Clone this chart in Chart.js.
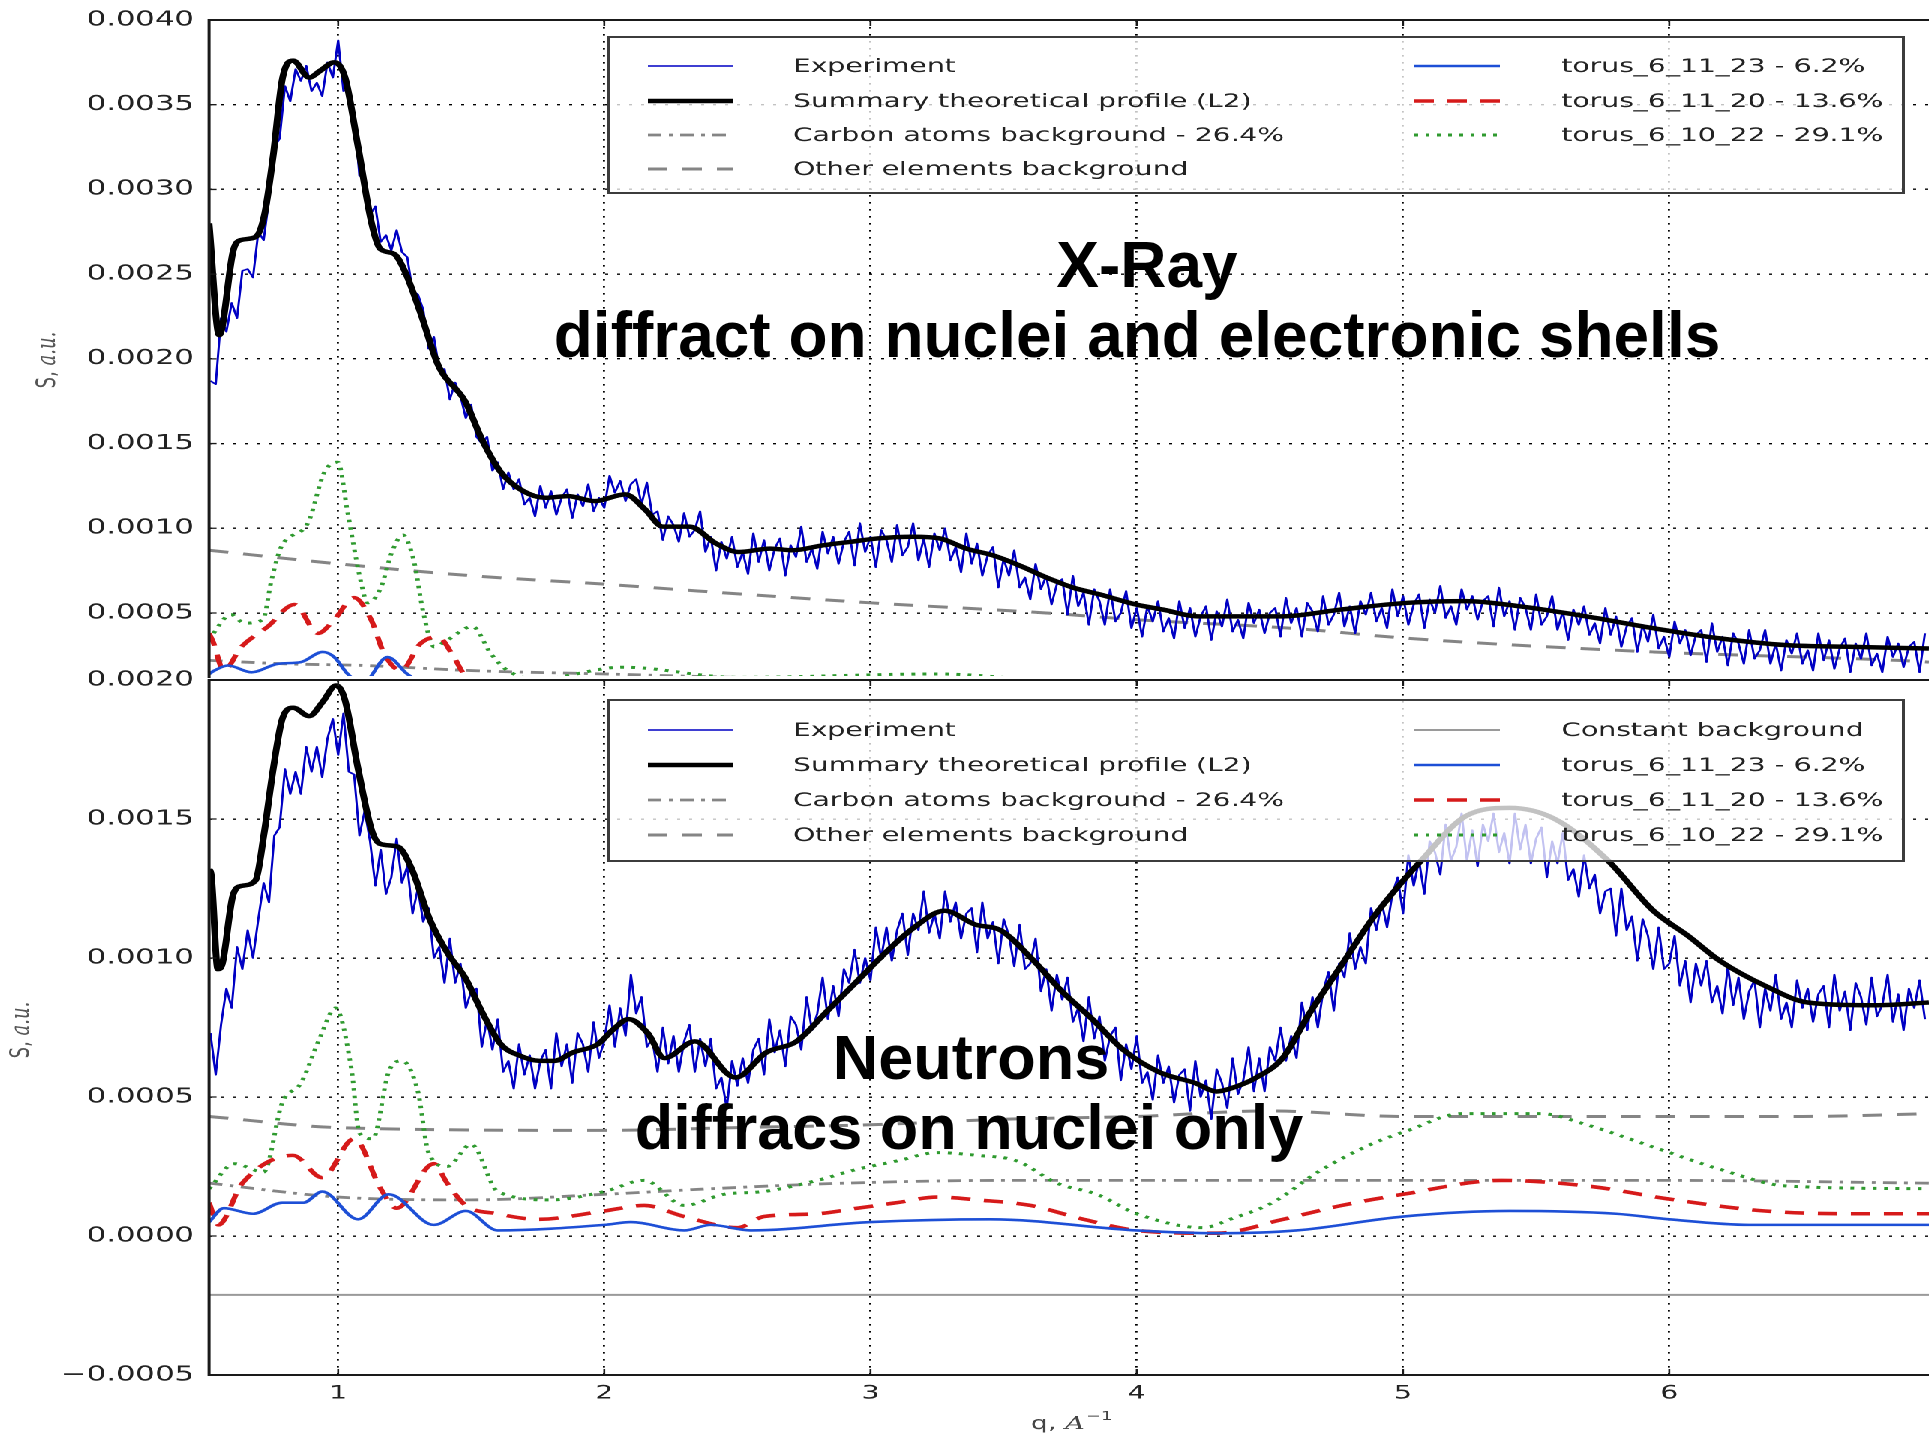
<!DOCTYPE html>
<html><head><meta charset="utf-8">
<script src="https://cdn.jsdelivr.net/npm/chart.js@4/dist/chart.umd.min.js"></script>
<style>
html,body{margin:0;padding:0;background:#fff;width:1929px;height:1440px;overflow:hidden;}
#stretch{position:absolute;left:0;top:0;width:1286px;height:1440px;transform:scaleX(1.5);transform-origin:0 0;}
.box{position:absolute;left:0;width:1286px;}
.note{position:absolute;font-family:"Liberation Sans",Arial,sans-serif;font-weight:bold;color:#000;white-space:nowrap;line-height:1;transform:translateX(-50%);}
</style></head>
<body>
<div id="stretch">
  <div class="box" style="top:0;height:678px"><canvas id="c1" width="1286" height="678"></canvas></div>
  <div class="box" style="top:650px;height:790px"><canvas id="c2" width="1286" height="790"></canvas></div>
</div>
<div class="note" style="left:1147px;top:233px;font-size:64px">X-Ray</div>
<div class="note" style="left:1137px;top:303px;font-size:64px">diffract on nuclei and electronic shells</div>
<div class="note" style="left:971px;top:1026px;font-size:63px">Neutrons</div>
<div class="note" style="left:969px;top:1096px;font-size:63px">diffracs on nuclei only</div>
<script>
// ---------- tick values ----------
const xTicks = [1, 2, 3, 4, 5, 6];
const topYTicks = [0.0005, 0.001, 0.0015, 0.002, 0.0025, 0.003, 0.0035, 0.004];
const botYTicks = [-0.0005, 0, 0.0005, 0.001, 0.0015, 0.002];

// ---------- experiment (sampled on q = 0.52, 0.54, ... 6.96) ----------
const expQ0 = 0.52, expDQ = 0.02;
const expTop = [
0.00187,0.00185,0.00224,0.00216,0.00233,0.00224,0.00252,0.00253,0.00248,0.00275,
0.00270,0.00294,0.00325,0.00330,0.00361,0.00352,0.00371,0.00364,0.00373,0.00358,
0.00363,0.00355,0.00375,0.00366,0.00388,0.00358,0.00360,0.00345,0.00308,0.00307,
0.00285,0.00290,0.00269,0.00273,0.00264,0.00276,0.00263,0.00260,0.00240,0.00238,
0.00229,0.00206,0.00213,0.00194,0.00194,0.00176,0.00186,0.00178,0.00165,0.00173,
0.00154,0.00150,0.00154,0.00134,0.00139,0.00123,0.00133,0.00123,0.00129,0.00114,
0.00118,0.00107,0.00125,0.00112,0.00122,0.00108,0.00118,0.00123,0.00106,0.00120,
0.00113,0.00126,0.00110,0.00118,0.00112,0.00131,0.00121,0.00128,0.00116,0.00126,
0.00129,0.00114,0.00127,0.00108,0.00110,0.00093,0.00107,0.00102,0.00092,0.00109,
0.00095,0.00099,0.00110,0.00086,0.00095,0.00075,0.00092,0.00082,0.00095,0.00077,
0.00086,0.00073,0.00097,0.00080,0.00093,0.00075,0.00088,0.00094,0.00072,0.00090,
0.00083,0.00101,0.00080,0.00088,0.00076,0.00098,0.00085,0.00095,0.00079,0.00092,
0.00098,0.00078,0.00103,0.00086,0.00095,0.00077,0.00099,0.00093,0.00080,0.00102,
0.00084,0.00089,0.00103,0.00081,0.00094,0.00077,0.00097,0.00087,0.00100,0.00081,
0.00089,0.00074,0.00097,0.00079,0.00091,0.00072,0.00084,0.00089,0.00065,0.00082,
0.00072,0.00087,0.00065,0.00071,0.00058,0.00079,0.00064,0.00072,0.00055,0.00067,
0.00070,0.00049,0.00072,0.00054,0.00062,0.00043,0.00064,0.00057,0.00043,0.00064,
0.00045,0.00050,0.00063,0.00041,0.00053,0.00036,0.00054,0.00045,0.00057,0.00039,
0.00047,0.00035,0.00057,0.00041,0.00053,0.00036,0.00048,0.00054,0.00034,0.00051,
0.00042,0.00058,0.00039,0.00046,0.00035,0.00056,0.00044,0.00052,0.00038,0.00050,
0.00053,0.00036,0.00059,0.00044,0.00053,0.00036,0.00056,0.00051,0.00039,0.00060,
0.00043,0.00049,0.00062,0.00042,0.00054,0.00038,0.00057,0.00049,0.00062,0.00045,
0.00053,0.00041,0.00064,0.00048,0.00060,0.00043,0.00055,0.00061,0.00041,0.00058,
0.00050,0.00066,0.00047,0.00054,0.00043,0.00064,0.00052,0.00060,0.00046,0.00057,
0.00060,0.00042,0.00065,0.00048,0.00057,0.00040,0.00059,0.00053,0.00040,0.00061,
0.00043,0.00048,0.00060,0.00040,0.00051,0.00034,0.00052,0.00043,0.00054,0.00037,
0.00044,0.00032,0.00053,0.00037,0.00048,0.00030,0.00042,0.00047,0.00027,0.00043,
0.00033,0.00049,0.00029,0.00036,0.00024,0.00045,0.00032,0.00040,0.00025,0.00037,
0.00040,0.00021,0.00044,0.00027,0.00036,0.00019,0.00038,0.00032,0.00020,0.00040,
0.00023,0.00028,0.00040,0.00020,0.00032,0.00016,0.00034,0.00026,0.00038,0.00020,
0.00028,0.00016,0.00038,0.00022,0.00034,0.00017,0.00029,0.00035,0.00015,0.00032,
0.00023,0.00038,0.00019,0.00026,0.00015,0.00036,0.00024,0.00032,0.00018,0.00030,
0.00033,0.00015,0.00038];
const expBot = [
0.00073,0.00058,0.00076,0.00089,0.00082,0.00104,0.00096,0.00110,0.00100,0.00114,
0.00127,0.00120,0.00144,0.00147,0.00168,0.00159,0.00167,0.00159,0.00176,0.00167,
0.00176,0.00165,0.00179,0.00186,0.00173,0.00188,0.00167,0.00166,0.00144,0.00153,
0.00142,0.00126,0.00139,0.00123,0.00129,0.00143,0.00127,0.00133,0.00116,0.00125,
0.00113,0.00118,0.00100,0.00104,0.00091,0.00107,0.00091,0.00098,0.00082,0.00088,
0.00089,0.00068,0.00078,0.00067,0.00078,0.00059,0.00063,0.00053,0.00069,0.00058,
0.00065,0.00053,0.00063,0.00067,0.00053,0.00073,0.00061,0.00069,0.00055,0.00073,
0.00069,0.00059,0.00077,0.00064,0.00070,0.00083,0.00068,0.00082,0.00072,0.00094,
0.00080,0.00086,0.00068,0.00071,0.00059,0.00075,0.00062,0.00072,0.00059,0.00070,
0.00076,0.00059,0.00071,0.00061,0.00071,0.00053,0.00057,0.00046,0.00063,0.00054,
0.00064,0.00055,0.00067,0.00071,0.00058,0.00078,0.00066,0.00074,0.00061,0.00079,
0.00076,0.00067,0.00086,0.00074,0.00080,0.00093,0.00078,0.00090,0.00079,0.00096,
0.00091,0.00103,0.00091,0.00100,0.00092,0.00111,0.00100,0.00111,0.00099,0.00110,
0.00116,0.00101,0.00116,0.00110,0.00124,0.00109,0.00116,0.00107,0.00124,0.00113,
0.00120,0.00107,0.00116,0.00118,0.00102,0.00120,0.00107,0.00113,0.00098,0.00114,
0.00108,0.00097,0.00112,0.00096,0.00098,0.00107,0.00088,0.00096,0.00081,0.00094,
0.00085,0.00093,0.00077,0.00082,0.00070,0.00086,0.00071,0.00079,0.00063,0.00072,
0.00075,0.00056,0.00069,0.00060,0.00072,0.00055,0.00059,0.00049,0.00065,0.00055,
0.00061,0.00048,0.00058,0.00060,0.00045,0.00063,0.00050,0.00056,0.00042,0.00060,
0.00055,0.00046,0.00064,0.00051,0.00056,0.00068,0.00052,0.00064,0.00052,0.00068,
0.00063,0.00075,0.00063,0.00072,0.00064,0.00084,0.00074,0.00086,0.00075,0.00088,
0.00095,0.00081,0.00098,0.00093,0.00109,0.00096,0.00104,0.00098,0.00118,0.00110,
0.00120,0.00111,0.00123,0.00129,0.00116,0.00137,0.00126,0.00135,0.00123,0.00142,
0.00138,0.00130,0.00148,0.00135,0.00140,0.00152,0.00135,0.00146,0.00133,0.00148,
0.00142,0.00152,0.00138,0.00145,0.00134,0.00152,0.00139,0.00148,0.00134,0.00143,
0.00147,0.00129,0.00142,0.00134,0.00145,0.00128,0.00132,0.00122,0.00137,0.00125,
0.00130,0.00116,0.00124,0.00125,0.00108,0.00125,0.00110,0.00115,0.00099,0.00114,
0.00108,0.00096,0.00111,0.00096,0.00098,0.00108,0.00090,0.00099,0.00084,0.00098,
0.00090,0.00099,0.00084,0.00090,0.00080,0.00097,0.00083,0.00093,0.00078,0.00088,
0.00092,0.00075,0.00089,0.00081,0.00094,0.00078,0.00084,0.00075,0.00092,0.00082,
0.00089,0.00077,0.00087,0.00090,0.00075,0.00094,0.00081,0.00088,0.00074,0.00091,
0.00086,0.00076,0.00093,0.00079,0.00083,0.00094,0.00077,0.00087,0.00074,0.00089,
0.00082,0.00092,0.00078];

// ---------- X-ray panel smooth curves ----------
const topSumQ = [0.515,0.553,0.606,0.632,0.69,0.723,0.756,0.79,0.831,0.891,0.932,0.985,1.026,1.075,1.126,1.158,1.21,1.25,1.31,1.377,1.477,1.545,1.612,1.695,1.78,1.863,1.964,2.079,2.154,2.22,2.32,2.42,2.505,2.623,2.707,2.824,2.925,3.026,3.16,3.26,3.36,3.46,3.56,3.66,3.76,3.86,3.997,4.098,4.23,4.366,4.548,4.766,5.017,5.235,5.435,5.687,5.94,6.19,6.44,6.69,6.975];
const topSumV = [0.00280,0.00214,0.00264,0.00270,0.00272,0.00285,0.00320,0.00365,0.00376,0.00366,0.00370,0.00375,0.00366,0.00325,0.00280,0.00265,0.00262,0.00252,0.00227,0.00196,0.00175,0.00151,0.00133,0.00122,0.00118,0.00119,0.00116,0.00120,0.00111,0.00101,0.00101,0.00091,0.00086,0.00088,0.00087,0.00090,0.00092,0.00094,0.00095,0.00094,0.00088,0.00084,0.00078,0.00071,0.00065,0.00061,0.00055,0.00052,0.00048,0.00048,0.00048,0.00052,0.00056,0.00057,0.00054,0.00048,0.00041,0.00035,0.00031,0.00030,0.00029];
const topOtherQ = [0.515,1.0,1.5,2.0,2.35,3.0,3.66,4.0,4.58,5.02,5.94,6.86,6.975];
const topOtherV = [0.00087,0.00079,0.00072,0.00067,0.00063,0.00056,0.00050,0.00046,0.00041,0.00035,0.00027,0.00022,0.00021];
const topCarbonQ = [0.515,0.8,1.1,1.5,2.0,2.5,3.0,4.0,5.0,6.0,6.975];
const topCarbonV = [0.00022,0.00020,0.00019,0.00016,0.00014,0.00012,0.00011,0.00009,0.00008,0.00007,0.00006];
const topT23Q = [0.515,0.535,0.586,0.674,0.774,0.86,0.942,0.985,1.036,1.09,1.186,1.26,1.33,1.45,1.6,2.0,3.0,4.3,5.4,6.975];
const topT23V = [0.00014,0.00016,0.00019,0.00015,0.00020,0.00021,0.00027,0.00024,0.00014,0.00008,0.00024,0.00014,0.00008,0.00010,0.00005,0.00004,0.00006,0.00002,0.00008,0.00004];
const topT20Q = [0.515,0.53,0.57,0.636,0.736,0.836,0.924,0.985,1.06,1.124,1.173,1.236,1.31,1.374,1.435,1.473,1.55,1.8,2.2,2.6,3.3,4.2,5.4,6.975];
const topT20V = [0.00038,0.00033,0.00016,0.00030,0.00042,0.00055,0.00038,0.00046,0.00059,0.00046,0.00026,0.00016,0.00032,0.00036,0.00024,0.00014,0.00008,0.00006,0.00008,0.00006,0.00011,0.00002,0.00010,0.00006];
const topT22Q = [0.515,0.523,0.598,0.647,0.717,0.749,0.786,0.886,0.948,0.999,1.036,1.086,1.111,1.161,1.2,1.243,1.286,1.318,1.361,1.41,1.505,1.574,1.637,1.75,2.07,2.5,3.25,4.0,5.4,6.975];
const topT22V = [0.00034,0.00036,0.00049,0.00044,0.00046,0.00069,0.00089,0.00103,0.00133,0.00139,0.00109,0.00068,0.00056,0.00065,0.00085,0.00096,0.00080,0.00052,0.00030,0.00034,0.00042,0.00026,0.00016,0.00011,0.00018,0.00012,0.00014,0.00006,0.00010,0.00008];

// ---------- Neutron panel smooth curves ----------
const botSumQ = [0.515,0.523,0.548,0.565,0.606,0.64,0.69,0.722,0.756,0.79,0.831,0.891,0.941,0.992,1.025,1.075,1.126,1.159,1.225,1.277,1.344,1.41,1.477,1.544,1.611,1.679,1.757,1.813,1.881,1.976,2.03,2.092,2.163,2.226,2.34,2.493,2.608,2.722,2.838,2.953,3.068,3.164,3.278,3.394,3.488,3.603,3.719,3.833,3.949,4.083,4.22,4.3,4.35,4.449,4.548,4.648,4.766,4.884,4.984,5.068,5.235,5.40,5.57,5.77,5.94,6.07,6.19,6.36,6.52,6.775,6.975];
const botSumV = [0.00132,0.00130,0.00096,0.00098,0.00123,0.00126,0.00128,0.00145,0.00168,0.00186,0.00190,0.00187,0.00192,0.00198,0.00193,0.00168,0.00146,0.00141,0.00140,0.00132,0.00114,0.00102,0.00093,0.00080,0.00069,0.00065,0.00063,0.00063,0.00066,0.00069,0.00074,0.00078,0.00073,0.00064,0.00070,0.00057,0.00066,0.00070,0.00081,0.00092,0.00103,0.00111,0.00117,0.00112,0.00110,0.00100,0.00088,0.00078,0.00067,0.00059,0.00055,0.00052,0.00053,0.00057,0.00064,0.00080,0.00097,0.00114,0.00126,0.00135,0.00151,0.00154,0.00150,0.00135,0.00117,0.00108,0.00099,0.00090,0.00084,0.00083,0.00084];
const botOtherQ = [0.515,1.0,2.0,2.5,3.0,3.5,4.0,4.5,5.0,5.5,6.0,6.5,6.975];
const botOtherV = [0.00043,0.00039,0.00038,0.00039,0.00040,0.00042,0.00043,0.00045,0.00043,0.00043,0.00043,0.00043,0.00044];
const botCarbonQ = [0.515,1.0,1.5,2.0,2.4,2.9,3.5,4.5,6.0,6.975];
const botCarbonV = [0.00019,0.00014,0.00013,0.00015,0.00017,0.00019,0.00020,0.00020,0.00020,0.00019];
const botT23Q = [0.515,0.57,0.68,0.79,0.87,0.94,1.075,1.19,1.36,1.48,1.6,2.0,2.1,2.3,2.4,2.55,3.0,3.45,4.0,4.3,4.6,5.0,5.4,5.8,6.0,6.3,6.975];
const botT23V = [0.00005,0.00010,0.00008,0.00012,0.00012,0.00016,0.00006,0.00015,0.00004,0.00009,0.00002,0.00004,0.00005,0.00002,0.00004,0.00002,0.00005,0.00006,0.00002,0.00001,0.00002,0.00007,0.00009,0.00008,0.00006,0.00004,0.00004];
const botT20Q = [0.515,0.55,0.64,0.83,0.94,1.06,1.16,1.22,1.36,1.41,1.48,1.6,1.75,2.0,2.15,2.3,2.5,2.6,2.8,2.95,3.1,3.25,3.4,3.6,3.8,4.0,4.3,4.55,4.77,5.0,5.37,5.69,6.02,6.36,6.69,6.975];
const botT20V = [0.00012,0.00004,0.00019,0.00029,0.00021,0.00035,0.00017,0.00010,0.00026,0.00019,0.00011,0.00008,0.00006,0.00009,0.00011,0.00007,0.00003,0.00007,0.00008,0.00010,0.00012,0.00014,0.00013,0.00011,0.00006,0.00002,0.00001,0.00006,0.00011,0.00015,0.00020,0.00018,0.00013,0.00009,0.00008,0.00008];
const botT22Q = [0.515,0.61,0.72,0.79,0.86,0.93,0.99,1.05,1.08,1.13,1.19,1.24,1.30,1.34,1.41,1.50,1.60,1.80,2.00,2.15,2.30,2.45,2.60,2.80,2.95,3.10,3.25,3.40,3.55,3.70,3.85,4.00,4.25,4.35,4.51,4.68,4.88,5.02,5.22,5.52,5.69,5.94,6.19,6.44,6.975];
const botT22V = [0.00017,0.00026,0.00023,0.00048,0.00055,0.00071,0.00082,0.00060,0.00037,0.00035,0.00059,0.00063,0.00052,0.00030,0.00025,0.00033,0.00016,0.00013,0.00016,0.00020,0.00011,0.00015,0.00016,0.00020,0.00024,0.00027,0.00030,0.00029,0.00027,0.00019,0.00015,0.00008,0.00003,0.00006,0.00012,0.00023,0.00033,0.00038,0.00044,0.00044,0.00040,0.00032,0.00024,0.00018,0.00017];
const botConstQ = [0.515, 6.975];
const botConstV = [-0.000212, -0.000212];

// ---------- labels ----------
const LBL = {
  exp: 'Experiment', sum: 'Summary theoretical profile (L2)',
  carbon: 'Carbon atoms background - 26.4%', other: 'Other elements background',
  cst: 'Constant background', t23: 'torus_6_11_23 - 6.2%', t20: 'torus_6_11_20 - 13.6%', t22: 'torus_6_10_22 - 29.1%'
};

// ---------- styles ----------
const STY = {
  sum: {borderColor:'#000000', borderWidth:4.5},
  exp: {borderColor:'#0000c4', borderWidth:1.5},
  t23: {borderColor:'#1d4fd6', borderWidth:2.6},
  t20: {borderColor:'#d61a1a', borderWidth:3.6, borderDash:[13,9]},
  t22: {borderColor:'#2f9a2f', borderWidth:3, borderDash:[2.5,5]},
  carbon: {borderColor:'#858585', borderWidth:2.8, borderDash:[9,5,2.5,5]},
  other: {borderColor:'#858585', borderWidth:3, borderDash:[13,10]},
  cst: {borderColor:'#9a9a9a', borderWidth:2}
};

const pts = (qs, vs) => qs.map((q, i) => ({x: q, y: vs[i]}));
const expPts = (vs) => vs.map((v, i) => ({x: +(expQ0 + expDQ * i).toFixed(2), y: v}));
function ds(key, data, smooth) {
  return Object.assign({label: LBL[key], key: key, data: data, pointRadius: 0, fill: false,
    tension: 0, cubicInterpolationMode: smooth ? 'monotone' : 'default'}, STY[key]);
}

const TICK_FONT = {family: 'DejaVu Sans', size: 20.5};
const fmtY = v => (v < -1e-12 ? '\u2212' + (-v).toFixed(4) : Math.abs(v).toFixed(4));

function drawYTitle(ctx, cx, cy) {
  ctx.save();
  ctx.translate(cx, cy); ctx.rotate(-Math.PI / 2);
  ctx.fillStyle = '#555'; ctx.textBaseline = 'middle';
  ctx.font = '18px "DejaVu Sans"'; const w1 = ctx.measureText('S, ').width;
  ctx.font = 'italic 18px "DejaVu Serif"'; const w2 = ctx.measureText('a.u.').width;
  const x0 = -(w1 + w2) / 2;
  ctx.font = '18px "DejaVu Sans"'; ctx.fillText('S, ', x0, 0);
  ctx.font = 'italic 18px "DejaVu Serif"'; ctx.fillText('a.u.', x0 + w1, 0);
  ctx.restore();
}
function drawXTitle(ctx, cx, cy) {
  ctx.save();
  ctx.fillStyle = '#444'; ctx.textBaseline = 'alphabetic';
  ctx.font = '18px "DejaVu Sans"'; const w1 = ctx.measureText('q, ').width;
  ctx.font = 'italic 18px "DejaVu Serif"'; const w2 = ctx.measureText('A').width;
  ctx.font = '12px "DejaVu Sans"'; const w3 = ctx.measureText('\u22121').width;
  let x = cx - (w1 + w2 + w3) / 2;
  ctx.font = '18px "DejaVu Sans"'; ctx.fillText('q, ', x, cy + 6); x += w1;
  ctx.font = 'italic 18px "DejaVu Serif"'; ctx.fillText('A', x, cy + 6); x += w2 + 1;
  ctx.font = '12px "DejaVu Sans"'; ctx.fillText('\u22121', x, cy - 3);
  ctx.restore();
}

function decor(cfg) {
  return {
    id: 'decor' + cfg.name,
    afterDatasetsDraw(chart) {
      const ctx = chart.ctx, L = cfg.legend;
      ctx.save();
      ctx.fillStyle = 'rgba(255,255,255,0.76)';
      ctx.fillRect(L.left, L.top, L.right - L.left, L.bottom - L.top);
      ctx.lineWidth = 2; ctx.strokeStyle = '#3c3c3c';
      ctx.strokeRect(L.left, L.top, L.right - L.left, L.bottom - L.top);
      ctx.font = '18.8px "DejaVu Sans"'; ctx.textBaseline = 'middle'; ctx.fillStyle = '#222';
      L.items.forEach(it => {
        const d = chart.data.datasets.find(s => s.key === it.key);
        const c = L.cols[it.col], y = L.rows[it.row];
        ctx.save();
        ctx.strokeStyle = d.borderColor; ctx.lineWidth = d.borderWidth;
        ctx.setLineDash(d.borderDash || []);
        ctx.beginPath(); ctx.moveTo(c.x0, y); ctx.lineTo(c.x1, y); ctx.stroke();
        ctx.restore();
        ctx.fillText(d.label, c.tx, y + 1);
      });
      ctx.restore();
    },
    afterDraw(chart) {
      const ctx = chart.ctx, a = chart.chartArea;
      const xs = chart.scales.x, ys = chart.scales.y;
      ctx.save();
      ctx.strokeStyle = '#1a1a1a'; ctx.lineWidth = 2;
      ctx.beginPath();
      ctx.moveTo(a.right + 2, a.top); ctx.lineTo(a.left, a.top);
      ctx.lineTo(a.left, cfg.bottomFrame ? a.bottom : chart.height);
      if (cfg.bottomFrame) ctx.lineTo(a.right + 2, a.bottom);
      ctx.stroke();
      ctx.lineWidth = 1.3;
      ctx.beginPath();
      xTicks.forEach(v => {
        const px = xs.getPixelForValue(v);
        ctx.moveTo(px, a.top); ctx.lineTo(px, a.top + 6);
        if (cfg.bottomFrame) { ctx.moveTo(px, a.bottom); ctx.lineTo(px, a.bottom - 6); }
      });
      cfg.yTicks.forEach(v => {
        const py = ys.getPixelForValue(v);
        if (py >= a.top - 1 && py <= a.bottom + 1) { ctx.moveTo(a.left, py); ctx.lineTo(a.left + 5, py); }
      });
      ctx.stroke();
      ctx.restore();
      drawYTitle(ctx, cfg.yTitle[0], cfg.yTitle[1]);
      if (cfg.xTitle) drawXTitle(ctx, cfg.xTitle[0], cfg.xTitle[1]);
    }
  };
}

function makeOptions(yMin, yMax, yTicks, xAxisH, xTickShow, padTop) {
  return {
    responsive: false, animation: false, devicePixelRatio: 2, events: [],
    layout: {padding: {top: padTop, left: 0, right: 0, bottom: xTickShow ? 0 : 2}},
    plugins: {legend: {display: false}, tooltip: {enabled: false}},
    elements: {line: {borderCapStyle: 'butt', borderJoinStyle: 'round'}},
    scales: {
      x: {
        type: 'linear', min: 0.515, max: 6.975,
        afterBuildTicks: s => { s.ticks = xTicks.map(v => ({value: v})); },
        afterFit: s => { s.height = xAxisH; s.paddingLeft = 0; s.paddingRight = 0; },
        ticks: {display: xTickShow, font: {family: 'DejaVu Sans', size: 19}, color: '#222', padding: 7, maxRotation: 0,
          callback: v => String(v)},
        grid: {drawTicks: false, color: '#000', lineWidth: 1.4},
        border: {display: false, dash: [1.6, 5.4]}
      },
      y: {
        type: 'linear', min: yMin, max: yMax,
        afterBuildTicks: s => { s.ticks = yTicks.map(v => ({value: v})); },
        afterFit: s => { s.width = 139.3; s.paddingTop = 0; s.paddingBottom = 0; },
        ticks: {font: TICK_FONT, color: '#222', padding: 10, callback: fmtY},
        grid: {drawTicks: false, color: '#000', lineWidth: 1.4},
        border: {display: false, dash: [2, 6]}
      }
    }
  };
}

const colsTop = [{x0: 432, x1: 489, tx: 528.7}, {x0: 943, x1: 1000, tx: 1041}];

// ---------- X-ray chart ----------
new Chart(document.getElementById('c1'), {
  type: 'line',
  data: {datasets: [
    ds('sum', pts(topSumQ, topSumV), true),
    ds('exp', expPts(expTop), false),
    ds('t23', pts(topT23Q, topT23V), true),
    ds('t20', pts(topT20Q, topT20V), true),
    ds('t22', pts(topT22Q, topT22V), true),
    ds('carbon', pts(topCarbonQ, topCarbonV), true),
    ds('other', pts(topOtherQ, topOtherV), true)
  ]},
  options: makeOptions(0.000128, 0.004, topYTicks, 0, false, 20),
  plugins: [decor({
    name: 'top', bottomFrame: false, yTicks: topYTicks, yTitle: [32, 360],
    legend: {left: 406, right: 1269, top: 37, bottom: 193, rows: [66, 101, 135, 169], cols: colsTop,
      items: [{key:'exp',col:0,row:0},{key:'sum',col:0,row:1},{key:'carbon',col:0,row:2},{key:'other',col:0,row:3},
              {key:'t23',col:1,row:0},{key:'t20',col:1,row:1},{key:'t22',col:1,row:2}]}
  })]
});

// ---------- Neutron chart ----------
new Chart(document.getElementById('c2'), {
  type: 'line',
  data: {datasets: [
    ds('sum', pts(botSumQ, botSumV), true),
    ds('exp', expPts(expBot), false),
    ds('t23', pts(botT23Q, botT23V), true),
    ds('t20', pts(botT20Q, botT20V), true),
    ds('t22', pts(botT22Q, botT22V), true),
    ds('carbon', pts(botCarbonQ, botCarbonV), true),
    ds('other', pts(botOtherQ, botOtherV), true),
    ds('cst', pts(botConstQ, botConstV), false)
  ]},
  options: makeOptions(-0.0005, 0.002, botYTicks, 65, true, 30),
  plugins: [decor({
    name: 'bot', bottomFrame: true, yTicks: botYTicks, yTitle: [14.5, 380], xTitle: [714, 773],
    legend: {left: 406, right: 1269, top: 50, bottom: 211, rows: [80, 115, 150, 185], cols: colsTop,
      items: [{key:'exp',col:0,row:0},{key:'sum',col:0,row:1},{key:'carbon',col:0,row:2},{key:'other',col:0,row:3},
              {key:'cst',col:1,row:0},{key:'t23',col:1,row:1},{key:'t20',col:1,row:2},{key:'t22',col:1,row:3}]}
  })]
});
</script>
</body></html>
